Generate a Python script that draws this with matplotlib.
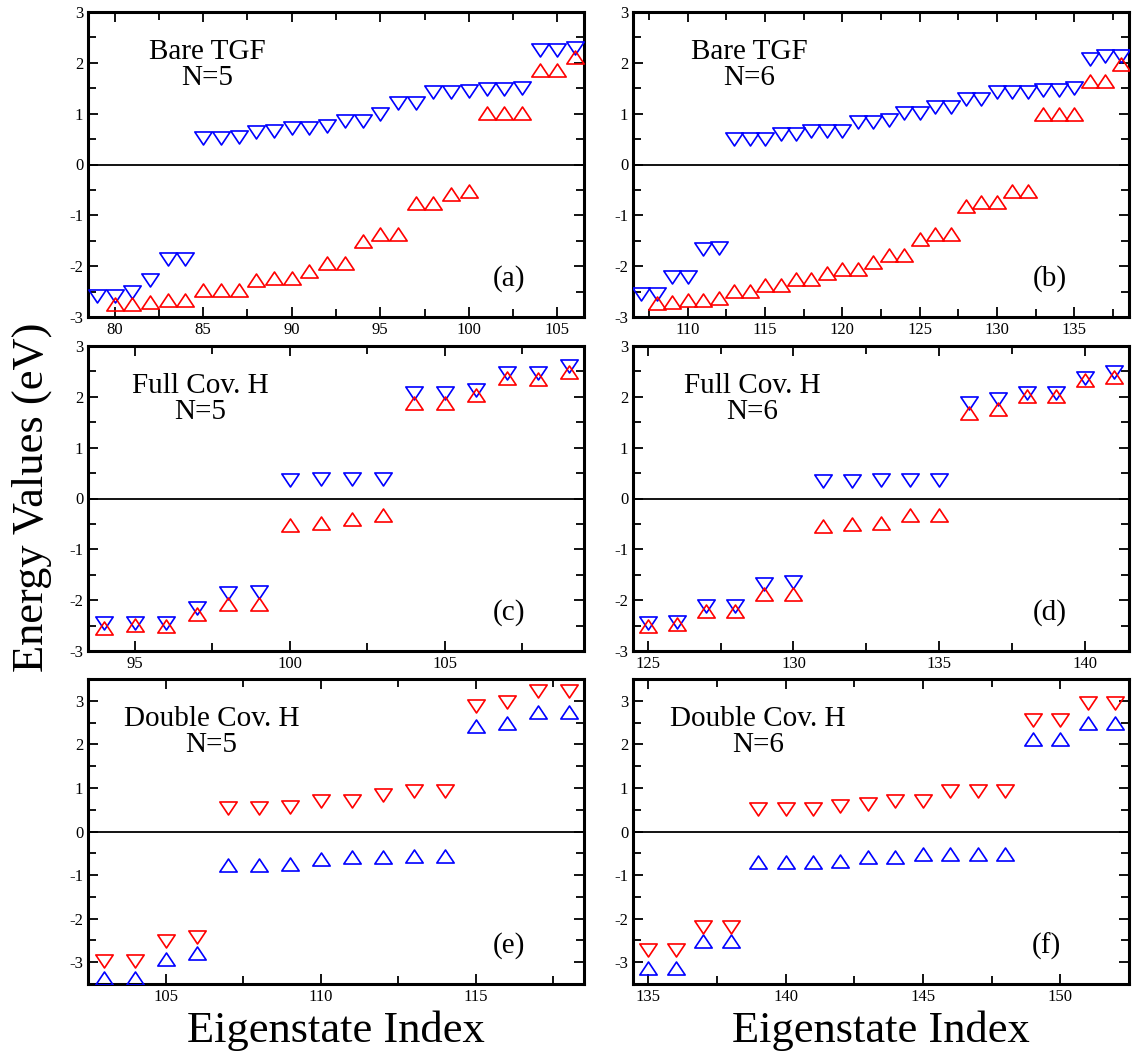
import numpy as np
import matplotlib
matplotlib.use("Agg")
import matplotlib.pyplot as plt
from matplotlib.path import Path
from matplotlib.ticker import MultipleLocator

plt.rcParams['font.family'] = ['Liberation Serif', 'DejaVu Serif']
plt.rcParams['axes.unicode_minus'] = False

# (a) Bare TGF, N=5
idx_blue_a = np.arange(79, 107)
blue_a = [-2.58, -2.58, -2.51, -2.27, -1.85, -1.85, 0.52, 0.52, 0.55, 0.64, 0.66, 0.71,
          0.72, 0.76, 0.86, 0.86, 0.99, 1.21, 1.21, 1.42, 1.42, 1.44, 1.49, 1.49, 1.51,
          2.26, 2.26, 2.29]
idx_red_a = np.arange(80, 107)
red_a = [-2.74, -2.74, -2.71, -2.66, -2.66, -2.46, -2.46, -2.46, -2.27, -2.24, -2.24,
         -2.09, -1.93, -1.93, -1.51, -1.36, -1.36, -0.76, -0.76, -0.59, -0.53, 1.01,
         1.01, 1.01, 1.85, 1.85, 2.11]

# (b) Bare TGF, N=6
idx_blue_b = np.arange(107, 139)
blue_b = [-2.55, -2.55, -2.22, -2.22, -1.67, -1.65, 0.51, 0.51, 0.51, 0.60, 0.60, 0.66,
          0.66, 0.66, 0.84, 0.84, 0.87, 1.01, 1.01, 1.13, 1.14, 1.29, 1.29, 1.43, 1.43,
          1.43, 1.47, 1.47, 1.50, 2.07, 2.13, 2.13]
idx_red_b = np.arange(108, 139)
red_b = [-2.72, -2.71, -2.66, -2.66, -2.63, -2.49, -2.49, -2.38, -2.38, -2.25, -2.25,
         -2.14, -2.05, -2.05, -1.91, -1.79, -1.79, -1.46, -1.36, -1.36, -0.82, -0.74,
         -0.74, -0.52, -0.52, 0.99, 0.99, 0.99, 1.64, 1.65, 1.98]

# (c) Full Cov. H, N=5
idx_c = np.arange(94, 110)
blue_c = [-2.45, -2.45, -2.45, -2.16, -1.85, -1.84, 0.36, 0.38, 0.38, 0.39, 2.08, 2.08,
          2.14, 2.46, 2.46, 2.61]
red_c = [-2.54, -2.49, -2.51, -2.28, -2.08, -2.08, -0.52, -0.49, -0.41, -0.32, 1.88, 1.88,
         2.03, 2.37, 2.36, 2.49]

# (d) Full Cov. H, N=6
idx_d = np.arange(125, 142)
blue_d = [-2.44, -2.42, -2.11, -2.11, -1.68, -1.64, 0.34, 0.34, 0.37, 0.37, 0.37, 1.88,
          1.95, 2.07, 2.07, 2.38, 2.49]
red_d = [-2.51, -2.46, -2.21, -2.21, -1.88, -1.87, -0.55, -0.50, -0.49, -0.32, -0.32,
         1.69, 1.77, 2.01, 2.01, 2.33, 2.40]

# (e) Double Cov. H, N=5
idx_e = np.arange(103, 119)
red_e = [-2.97, -2.97, -2.51, -2.43, 0.54, 0.54, 0.56, 0.70, 0.70, 0.84, 0.93, 0.93,
         2.88, 2.98, 3.22, 3.22]
blue_e = [-3.37, -3.37, -2.92, -2.79, -0.77, -0.77, -0.75, -0.64, -0.59, -0.59, -0.57,
          -0.57, 2.42, 2.49, 2.75, 2.75]

# (f) Double Cov. H, N=6
idx_f = np.arange(135, 153)
red_f = [-2.72, -2.72, -2.19, -2.19, 0.51, 0.52, 0.51, 0.58, 0.64, 0.71, 0.71, 0.92,
         0.94, 0.94, 2.57, 2.57, 2.96, 2.96]
blue_f = [-3.14, -3.14, -2.51, -2.51, -0.71, -0.69, -0.69, -0.67, -0.59, -0.59, -0.51,
          -0.51, -0.51, -0.51, 2.13, 2.13, 2.50, 2.50]

titles = ["Bare TGF\nN=5", "Bare TGF\nN=6", "Full Cov. H\nN=5", "Full Cov. H\nN=6",
          "Double Cov. H\nN=5", "Double Cov. H\nN=6"]
letters = ["(a)", "(b)", "(c)", "(d)", "(e)", "(f)"]

# wide, flat triangles
tri_up = Path([(0, 0.75), (-1, -0.75), (1, -0.75), (0, 0.75)],
              [Path.MOVETO, Path.LINETO, Path.LINETO, Path.CLOSEPOLY])
tri_dn = Path([(0, -0.75), (-1, 0.75), (1, 0.75), (0, -0.75)],
              [Path.MOVETO, Path.LINETO, Path.LINETO, Path.CLOSEPOLY])

panels = [
    (idx_blue_a, blue_a, tri_dn, idx_red_a, red_a, tri_up, (78.5, 106.5), (-3, 3)),
    (idx_blue_b, blue_b, tri_dn, idx_red_b, red_b, tri_up, (106.45, 138.55), (-3, 3)),
    (idx_c, blue_c, tri_dn, idx_c, red_c, tri_up, (93.5, 109.5), (-3, 3)),
    (idx_d, blue_d, tri_dn, idx_d, red_d, tri_up, (124.5, 141.5), (-3, 3)),
    (idx_e, blue_e, tri_up, idx_e, red_e, tri_dn, (102.5, 118.5), (-3.5, 3.5)),
    (idx_f, blue_f, tri_up, idx_f, red_f, tri_dn, (134.45, 152.5), (-3.5, 3.5)),
]

W, H = 1134, 1059
fig = plt.figure(figsize=(W / 100, H / 100), dpi=100)

lefts = [88, 633]
tops = [12, 346, 679]
aw, ah = 496, 305

text_x = [0.24, 0.235, 0.227, 0.24, 0.249, 0.252]
letter_x = [0.849, 0.84, 0.848, 0.84, 0.848, 0.833]

for i, (xb, yb, mb, xr, yr, mr, xl, yl) in enumerate(panels):
    row, col = i // 2, i % 2
    ax = fig.add_axes([lefts[col] / W, 1 - (tops[row] + ah) / H, aw / W, ah / H])
    ax.axhline(0, color='black', lw=1.3, zorder=1)
    ax.plot(xb, yb, ls='none', marker=mb, ms=12.5, mfc='none', mec='#0000ff', mew=1.2, zorder=3)
    ax.plot(xr, yr, ls='none', marker=mr, ms=12.5, mfc='none', mec='#ff0000', mew=1.2, zorder=3)
    ax.set_xlim(xl)
    ax.set_ylim(yl)
    ax.xaxis.set_major_locator(MultipleLocator(5))
    ax.xaxis.set_minor_locator(MultipleLocator(2.5))
    ax.yaxis.set_major_locator(MultipleLocator(1))
    ax.yaxis.set_minor_locator(MultipleLocator(0.5))
    ax.tick_params(which='both', direction='in', top=True, right=True, width=1.3, labelsize=12)
    ax.tick_params(which='major', length=7)
    ax.tick_params(which='minor', length=6)
    for s in ax.spines.values():
        s.set_linewidth(2.2)
    ax.text(text_x[i], 0.825, titles[i], transform=ax.transAxes, ha='center', va='center',
            fontsize=21, linespacing=1.0)
    ax.text(letter_x[i], 0.125, letters[i], transform=ax.transAxes, ha='center', va='center',
            fontsize=21)

fig.text(0.028, 0.53, "Energy Values (eV)", rotation=90, ha='center', va='center', fontsize=32)
fig.text((88 + aw / 2) / W, 0.027, "Eigenstate Index", ha='center', va='center', fontsize=32)
fig.text((633 + aw / 2) / W, 0.027, "Eigenstate Index", ha='center', va='center', fontsize=32)

fig.savefig("out.png", dpi=100)
